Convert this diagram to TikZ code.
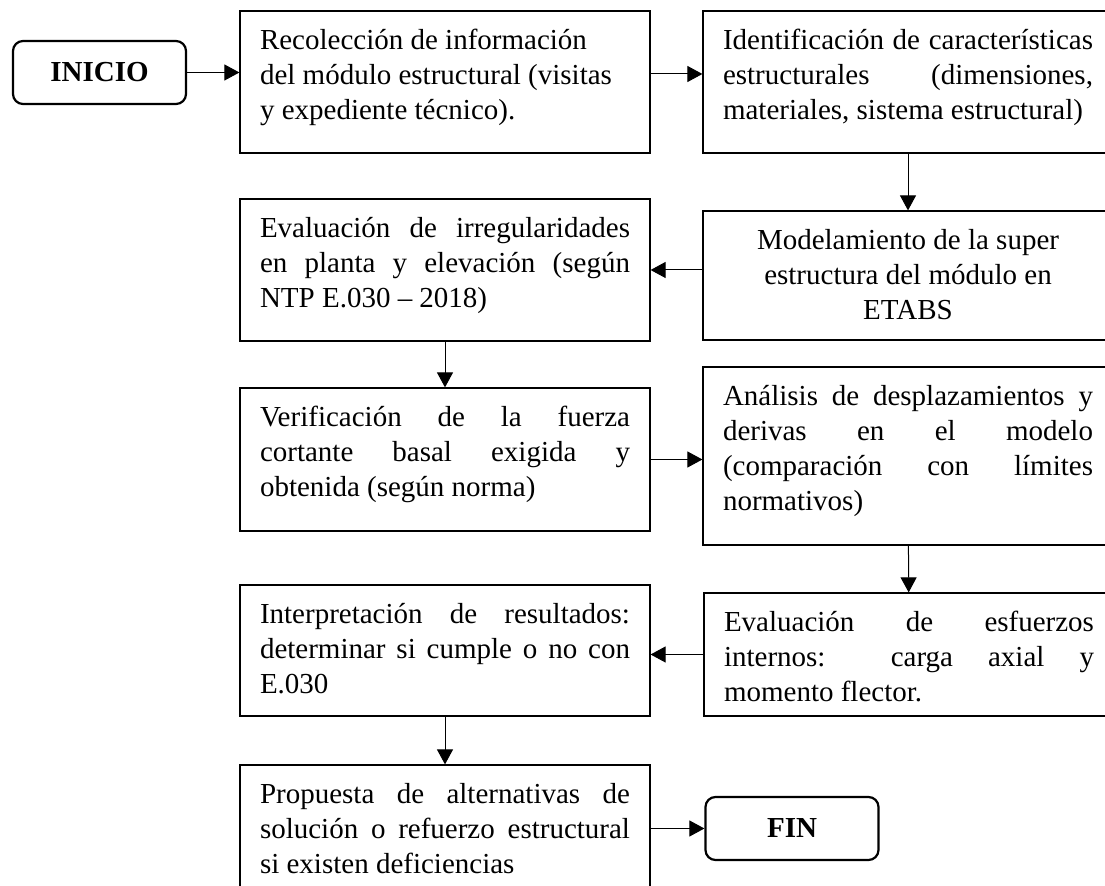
\documentclass[tikz,border=0pt]{standalone}
\usepackage{fontspec}
\setmainfont{Liberation Serif}
\usetikzlibrary{arrows.meta}

% text of a stage box: fixed height, first baseline at a fixed depth
\newcommand{\stagetext}[2]{\parbox[c][#1][t]{185pt}{\rule{0pt}{19.5pt}#2}}
\newcommand{\fillline}[1]{\makebox[\linewidth][s]{#1}}

\tikzset{
  stage/.style={draw, rectangle, inner xsep=10pt, inner ysep=0pt, line width=0.6pt},
  term/.style={draw, rounded corners=5pt, line width=1.1pt, minimum width=86.5pt,
    minimum height=31.5pt, font=\fontsize{14.5}{17.5}\selectfont\bfseries},
}

\begin{document}
\begin{tikzpicture}[x=0.5pt, y=-0.5pt, every node/.append style={font=\fontsize{14.5}{17.5}\selectfont}]
      \useasboundingbox (0,0) rectangle (1105,886);
      \clip (0,0) rectangle (1105,886);
      \draw
        (99.5,72.5) node[term] (0){INICIO}
        (445,82) node[stage] (1){\stagetext{71pt}{Recolección de información\\
          del módulo estructural (visitas\\ y expediente técnico).}}
        (908,82) node[stage] (2){\stagetext{71pt}{\fillline{Identificación de características}\\
          \fillline{estructurales (dimensiones,}\\ materiales, sistema estructural)}}
        (908,275.5) node[stage] (3){\stagetext{64.5pt}{\centering Modelamiento de la super\\
          estructura del módulo en\\ ETABS}}
        (445,270) node[stage] (4){\stagetext{71pt}{\fillline{Evaluación de irregularidades}\\
          \fillline{en planta y elevación (según}\\ NTP E.030 – 2018)}}
        (445,459.5) node[stage] (5){\stagetext{71.5pt}{\fillline{Verificación de la fuerza}\\
          \fillline{cortante basal exigida y}\\ obtenida (según norma)}}
        (908,456) node[stage] (6){\stagetext{89pt}{\fillline{Análisis de desplazamientos y}\\
          \fillline{derivas en el modelo}\\ \fillline{(comparación con límites}\\ normativos)}}
        (909,654.5) node[stage] (7){\stagetext{61.5pt}{\fillline{Evaluación de esfuerzos}\\
          \fillline{internos: carga axial y}\\ momento flector.}}
        (445,650.5) node[stage] (8){\stagetext{65.5pt}{\fillline{Interpretación de resultados:}\\
          \fillline{determinar si cumple o no con}\\ E.030}}
        (445,840) node[stage] (9){\stagetext{75pt}{\fillline{Propuesta de alternativas de}\\
          \fillline{solución o refuerzo estructural}\\ si existen deficiencias}}
        (792,828.5) node[term] (10){FIN};
      \begin{scope}[-{Triangle[length=7.5pt,width=8pt]}, line width=0.5pt]
        \draw (0) to (0 -| 1.west);
        \draw ([yshift=4pt]1.east) to ([yshift=4pt]2.west);
        \draw (2) to (3);
        \draw (3.west |- 4) to (4);
        \draw (4) to (5);
        \draw (5) to (5 -| 6.west);
        \draw (6) to (7);
        \draw (7) to (7 -| 8.east);
        \draw (8) to (9);
        \draw (9.east |- 10) to (10);
      \end{scope}
    \end{tikzpicture}
\end{document}
